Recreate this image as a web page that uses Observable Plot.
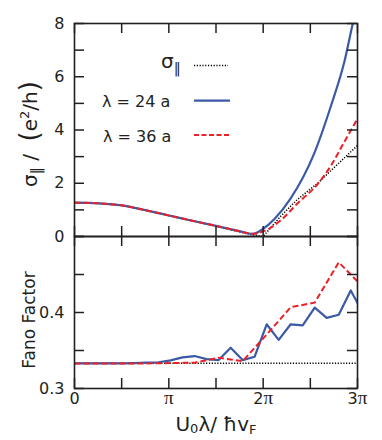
<!DOCTYPE html>
<html><head><meta charset="utf-8">
<script src="https://cdn.jsdelivr.net/npm/d3@7"></script>
<script src="https://cdn.jsdelivr.net/npm/@observablehq/plot@0.6"></script>
<style>
html,body{margin:0;padding:0;background:#fff;}
#chart{position:relative;width:382px;height:440px;overflow:hidden;background:#fff;}
#chart > svg{position:absolute;left:0;}
</style></head><body><div id="chart"></div>
<script>
// ---------- data (x = U0 λ / ħ vF, absolute units; 3π ≈ 9.425) ----------
// top panel: conductance σ∥ in e²/h
const topDotX  = [0, 0.785, 1.571, 2.356, 3.142, 3.927, 4.712, 5.498, 5.890, 6.283, 6.880, 7.414, 8.137, 8.545, 9.425];
const topDotY  = [1.27, 1.245, 1.17, 0.99, 0.79, 0.59, 0.39, 0.17, 0.07, 0.0, 0.78, 1.38, 2.04, 2.48, 3.42];
const topBlueX = [0, 0.785, 1.571, 2.356, 3.142, 3.927, 4.712, 5.498, 5.938, 6.283, 6.660, 7.194, 7.980, 8.545, 8.985, 9.268, 9.425];
const topBlueY = [1.27, 1.245, 1.17, 0.99, 0.79, 0.59, 0.40, 0.20, 0.10, 0.29, 0.66, 1.42, 3.11, 4.92, 6.55, 8.0, 8.75];
const topRedX  = [0, 0.785, 1.571, 2.356, 3.142, 3.927, 4.712, 5.498, 5.938, 6.283, 6.880, 7.414, 8.105, 8.545, 8.985, 9.425];
const topRedY  = [1.27, 1.245, 1.17, 0.99, 0.79, 0.59, 0.40, 0.20, 0.10, 0.19, 0.62, 1.23, 1.98, 2.67, 3.55, 4.42];
// bottom panel: Fano factor
const botDotX  = [0, 9.425];
const botDotY  = [0.3333, 0.3333];
const botBlueX = [0, 0.4, 0.8, 1.2, 1.6, 2.0, 2.4, 2.8, 3.2, 3.6, 4.0, 4.4, 4.8, 5.2, 5.6, 6.0, 6.4, 6.8, 7.2, 7.6, 8.0, 8.4, 8.8, 9.2, 9.6];
const botBlueY = [0.333, 0.333, 0.333, 0.333, 0.333, 0.3335, 0.334, 0.3345, 0.337, 0.341, 0.3427, 0.3387, 0.3374, 0.3537, 0.3374, 0.3418, 0.3845, 0.364, 0.3845, 0.383, 0.4065, 0.393, 0.397, 0.429, 0.400];
const botRedX  = [0, 0.8, 1.6, 2.4, 3.2, 4.0, 4.8, 5.6, 6.4, 7.2, 8.0, 8.8, 9.6];
const botRedY  = [0.333, 0.333, 0.333, 0.333, 0.3335, 0.334, 0.3405, 0.336, 0.371, 0.407, 0.413, 0.466, 0.434];
// ticks
const xTickVals   = [0, 1.5708, 3.1416, 4.7124, 6.2832, 7.854, 9.4248];
const xLabelVals  = [0, 3.1416, 6.2832, 9.4248];
const xLabelText  = ["0", "π", "2π", "3π"];
const topYTicks   = [0, 1, 2, 3, 4, 5, 6, 7, 8];
const topYLabels  = [0, 2, 4, 6, 8];
const botYTicks   = [0.3, 0.35, 0.4, 0.45, 0.5];
const botYLabels  = [0.3, 0.4];
const legendText  = ["λ = 24 a", "λ = 36 a"];

// ---------- styles ----------
const BLUE = "#3b5aa6", RED = "#ec2127", INK = "#231f20";
const W = 382, ML = 74, MR = 25, TICK = 10;
const innerW = W - ML - MR;
const pts = (xs, ys) => xs.map((x, i) => ({x, y: ys[i]}));
const baseStyle = {background: "transparent", fontFamily: "DejaVu Sans", fontSize: "16px", color: INK, overflow: "visible"};

function frameTicks(innerH, yTicks) {
  const o = {stroke: INK, strokeWidth: 1.5};
  return [
    Plot.tickX(xTickVals, {x: d => d, insetTop: innerH - TICK, ...o}),
    Plot.tickX(xTickVals, {x: d => d, insetBottom: innerH - TICK, ...o}),
    Plot.tickY(yTicks, {y: d => d, insetRight: innerW - TICK, ...o}),
    Plot.tickY(yTicks, {y: d => d, insetLeft: innerW - TICK, ...o}),
    Plot.frame({stroke: INK, strokeWidth: 1.6})
  ];
}
function seriesMarks(dot, blue, red, curve) {
  return [
    Plot.line(dot,  {x: "x", y: "y", stroke: "#000", strokeWidth: 1.5, strokeDasharray: "1.2,1.6", strokeLinecap: "butt", clip: true}),
    Plot.line(blue, {x: "x", y: "y", stroke: BLUE, strokeWidth: 2.2, curve, clip: true}),
    Plot.line(red,  {x: "x", y: "y", stroke: RED, strokeWidth: 2, strokeDasharray: "6,3", strokeLinecap: "butt", curve, clip: true})
  ];
}

// ---------- top panel ----------
const topH = 240, topMT = 23, topMB = 4;
const topPlot = Plot.plot({
  width: W, height: topH, marginTop: topMT, marginBottom: topMB, marginLeft: ML, marginRight: MR,
  style: baseStyle,
  x: {domain: [0, 9.4248], axis: null, label: null},
  y: {domain: [0, 8], label: null},
  marks: [
    ...seriesMarks(pts(topDotX, topDotY), pts(topBlueX, topBlueY), pts(topRedX, topRedY), "monotone-x"),
    ...frameTicks(topH - topMT - topMB, topYTicks),
    Plot.axisY(topYLabels, {tickSize: 0, tickPadding: 10, label: null, tickFormat: d => String(d), fill: INK})
  ]
});
topPlot.style.top = "0px";

// ---------- bottom panel ----------
const botTopOffset = 230, botH = 210, botMT = 6, botMB = 52;
const botPlot = Plot.plot({
  width: W, height: botH, marginTop: botMT, marginBottom: botMB, marginLeft: ML, marginRight: MR,
  style: baseStyle,
  x: {domain: [0, 9.4248], label: null},
  y: {domain: [0.3, 0.5], label: null},
  marks: [
    ...seriesMarks(pts(botDotX, botDotY), pts(botBlueX, botBlueY), pts(botRedX, botRedY), "linear"),
    ...frameTicks(botH - botMT - botMB, botYTicks),
    Plot.axisY(botYLabels, {tickSize: 0, tickPadding: 10, label: null, tickFormat: d => d.toFixed(1), fill: INK}),
    Plot.axisX(xLabelVals, {tickSize: 0, tickPadding: 4, label: null, tickFormat: d => xLabelText[xLabelVals.indexOf(d)], fill: INK})
  ]
});
botPlot.style.top = botTopOffset + "px";

const chart = document.getElementById("chart");
chart.appendChild(topPlot);
chart.appendChild(botPlot);

// serif π in x tick labels
d3.select(botPlot).selectAll("g[aria-label='x-axis tick label'] text").each(function () {
  const t = this.textContent;
  if (t.includes("π")) {
    const num = t.replace("π", "");
    const s = d3.select(this);
    s.text(null);
    if (num) s.append("tspan").text(num);
    s.append("tspan").attr("font-family", "Liberation Serif").attr("font-size", "19px").text("π");
  }
});

// ---------- titles & legend overlay ----------
const ov = d3.select(chart).append("svg")
  .attr("width", W).attr("height", 440)
  .style("position", "absolute").style("top", "0px").style("left", "0px")
  .style("pointer-events", "none")
  .attr("font-family", "DejaVu Sans").attr("fill", INK);

// y title top
const yt = ov.append("text").attr("transform", "translate(37,134) rotate(-90)")
  .attr("text-anchor", "middle").attr("font-size", "20px").style("white-space", "pre");
yt.append("tspan").text("σ");
yt.append("tspan").attr("font-size", "14px").attr("dy", 4).text("‖");
yt.append("tspan").attr("dy", -4).text(" /  ");
yt.append("tspan").attr("font-size", "26px").attr("dy", 1).text("(");
yt.append("tspan").attr("dy", -1).text("e");
yt.append("tspan").attr("font-size", "13px").attr("dy", -8).text("2");
yt.append("tspan").attr("dy", 8).text("/h");
yt.append("tspan").attr("font-size", "26px").attr("dy", 1).text(")");

// y title bottom
ov.append("text").attr("transform", "translate(35,320) rotate(-90)")
  .attr("text-anchor", "middle").attr("font-size", "17px").text("Fano Factor");

// x title
const xt = ov.append("text").attr("x", 216).attr("y", 431).attr("text-anchor", "middle").attr("font-size", "20px").style("white-space", "pre");
xt.append("tspan").text("U");
xt.append("tspan").attr("font-size", "13px").attr("dy", 2).text("0");
xt.append("tspan").attr("dy", -2).text("λ/ ħv");
xt.append("tspan").attr("font-size", "13px").attr("dy", 3).text("F");

// legend
const lg = ov.append("g").attr("font-size", "16px");
const s1 = lg.append("text").attr("x", 161).attr("y", 68).attr("font-size", "20px");
s1.append("tspan").text("σ");
s1.append("tspan").attr("font-size", "14px").attr("dy", 5).text("‖");
lg.append("line").attr("x1", 194).attr("x2", 228).attr("y1", 65.5).attr("y2", 65.5)
  .attr("stroke", "#000").attr("stroke-width", 1.5).attr("stroke-dasharray", "1.2,1.6");
lg.append("text").attr("x", 102).attr("y", 107).text(legendText[0]);
lg.append("line").attr("x1", 194).attr("x2", 230).attr("y1", 100.7).attr("y2", 100.7)
  .attr("stroke", BLUE).attr("stroke-width", 2.2);
lg.append("text").attr("x", 103).attr("y", 141.5).text(legendText[1]);
lg.append("line").attr("x1", 194).attr("x2", 230).attr("y1", 135).attr("y2", 135)
  .attr("stroke", RED).attr("stroke-width", 2).attr("stroke-dasharray", "5,2.5");
</script></body></html>
